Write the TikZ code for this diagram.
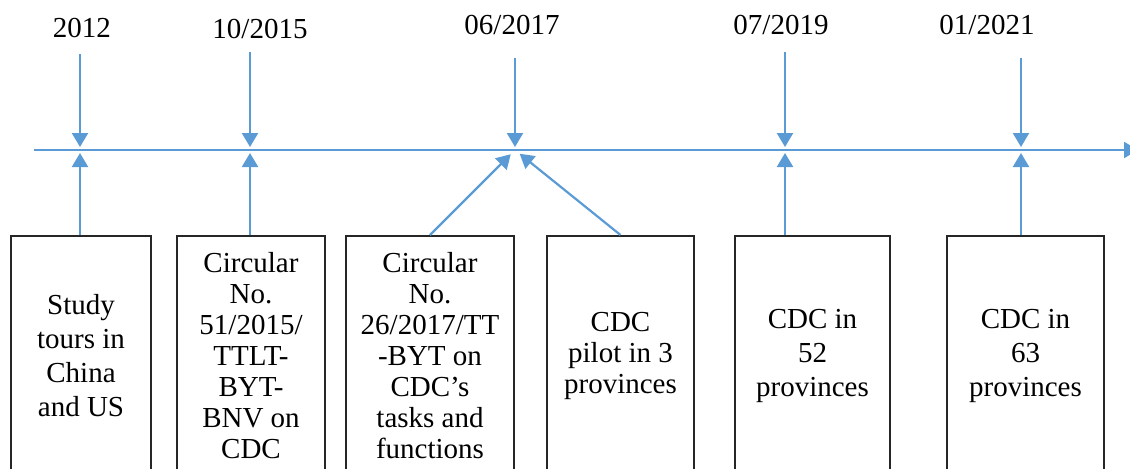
\documentclass[tikz,border=0pt]{standalone}
\usepackage{fontspec}
\setmainfont{Liberation Serif}
\usepackage{xcolor}
\usetikzlibrary{arrows.meta, positioning}
\definecolor{lineblue}{RGB}{91,155,213}
\definecolor{boxgray}{RGB}{38,38,38}

\begin{document}
\begin{tikzpicture}[x=0.5pt, y=-0.5pt]
            % Define styles
            \tikzstyle{timeline} = [draw=lineblue, line width=1.1pt, -{Triangle[width=8pt, length=7pt]}]
            \tikzstyle{evbox} = [draw=boxgray, line width=0.9pt, rectangle, anchor=north, minimum height=120pt, align=center, inner sep=0pt]
            \tikzstyle{tight} = [font=\fontsize{14.5}{15.5}\selectfont]
            \tikzstyle{loose} = [font=\fontsize{14.5}{17}\selectfont]
            \tikzstyle{datelbl} = [font=\fontsize{14.5}{17}\selectfont, inner sep=0pt]

            \useasboundingbox (0,0) rectangle (1130,468);
            \clip (0,0) rectangle (1130,468);

            % Points on the time axis
            \coordinate (start) at (34,150);
            \coordinate (stop) at (1138,150);
            \coordinate (t1) at (80,150);
            \coordinate (t2) at (250,150);
            \coordinate (t3) at (515,150);
            \coordinate (t4) at (785,150);
            \coordinate (t5) at (1021,150);

            % Dates
            \node[datelbl] at (82,28) (y1) {2012};
            \node[datelbl] at (260,29) (y2) {10/2015};
            \node[datelbl] at (512,25) (y3) {06/2017};
            \node[datelbl] at (781,25) (y4) {07/2019};
            \node[datelbl] at (987,25) (y5) {01/2021};
            \coordinate (d1) at (80,54);
            \coordinate (d2) at (250,52);
            \coordinate (d3) at (515,58);
            \coordinate (d4) at (785,52);
            \coordinate (d5) at (1021,58);

            % Boxes
            \node[evbox, loose, minimum width=70pt] at (81,235) (b1) {Study\\tours in\\China\\and US};
            \node[evbox, tight, minimum width=74pt] at (251,235) (b2) {Circular\\No.\\51/2015/\\TTLT-\\BYT-\\BNV on\\CDC};
            \node[evbox, tight, minimum width=84pt] at (430,235) (b3) {Circular\\No.\\26/2017/TT\\-BYT on\\CDC’s\\tasks and\\functions};
            \node[evbox, tight, minimum width=73.5pt] at (620.5,235) (b4) {CDC\\pilot in 3\\provinces};
            \node[evbox, loose, minimum width=77.5pt] at (812.5,235) (b5) {CDC in\\52\\provinces};
            \node[evbox, loose, minimum width=78.5pt] at (1025.5,235) (b6) {CDC in\\63\\provinces};

            % Axis
            \draw[timeline] (start) -- (stop);

            % From the dates
            \draw[timeline, shorten >=1.5pt] (d1) -- (t1);
            \draw[timeline, shorten >=1.5pt] (d2) -- (t2);
            \draw[timeline, shorten >=1.5pt] (d3) -- (t3);
            \draw[timeline, shorten >=1.5pt] (d4) -- (t4);
            \draw[timeline, shorten >=1.5pt] (d5) -- (t5);

            % From the boxes
            \draw[timeline, shorten >=1.5pt] (b1.north -| t1) -- (t1);
            \draw[timeline, shorten >=1.5pt] (b2.north -| t2) -- (t2);
            \draw[timeline, shorten >=3pt] (b3.north) -- (t3);
            \draw[timeline, shorten >=3pt] (b4.north) -- (t3);
            \draw[timeline, shorten >=1.5pt] (b5.north -| t4) -- (t4);
            \draw[timeline, shorten >=1.5pt] (b6.north -| t5) -- (t5);
        \end{tikzpicture}
\end{document}
